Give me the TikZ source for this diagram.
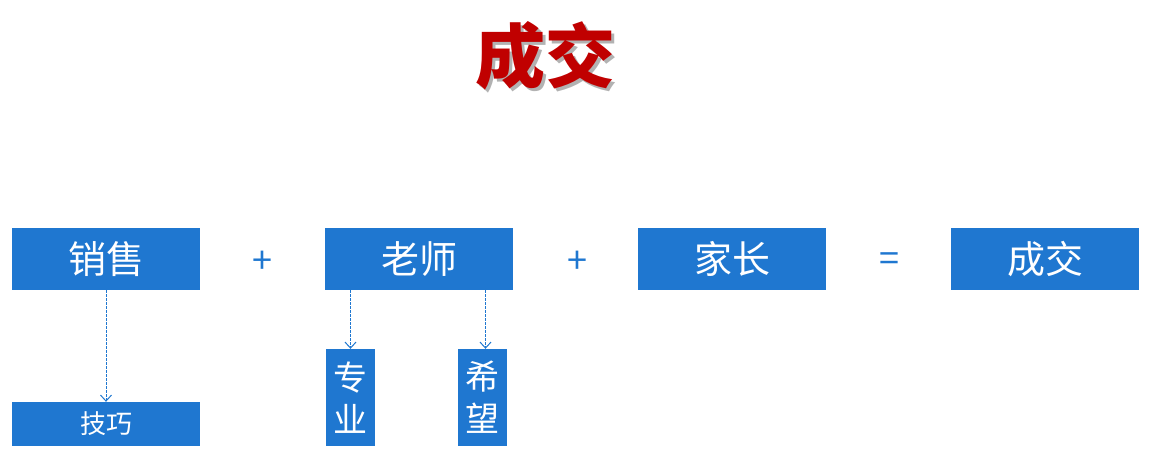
\documentclass[tikz,border=0pt]{standalone}
\usepackage{fontspec}
\newfontfamily\cjk{Noto Sans CJK SC}
\usetikzlibrary{arrows.meta}
\definecolor{bx}{HTML}{1F77D0}
\definecolor{tred}{HTML}{C00000}
\tikzset{
 big/.style={fill=bx,draw=none,minimum width=188pt,minimum height=62pt,inner sep=0pt,text=white,font=\cjk\fontsize{38}{38}\selectfont},
 op/.style={text=bx,font=\cjk\fontsize{36}{36}\selectfont},
 vbox/.style={fill=bx,draw=none,minimum width=49pt,minimum height=97pt,inner sep=0pt,text=white,align=center,font=\cjk\fontsize{34}{42}\selectfont},
 link/.style={draw=bx,dashed,dash pattern=on 2.5pt off 1.5pt,line width=1pt,-{Straight Barb[length=6pt,width=11pt,line width=1pt]}}
}
\begin{document}
\begin{tikzpicture}[x=1pt,y=-1pt]
\useasboundingbox (0,0) rectangle (1149,472);
\node[text=black!30,font=\cjk\bfseries\fontsize{70}{70}\selectfont] at (548,59) {成交};
\node (t) [text=tred,font=\cjk\bfseries\fontsize{70}{70}\selectfont] at (545,56) {成交};
\node (a) [big] at (106,259) {销售};
\node (b) [big] at (419,259) {老师};
\node (c) [big] at (732,259) {家长};
\node (d) [big] at (1045,259) {成交};
\node (p1) [op] at (262,262) {+};
\node (p2) [op] at (577,262) {+};
\node (eq) [op] at (889,262) {=};
\node (e) [fill=bx,minimum width=188pt,minimum height=44pt,inner sep=0pt,text=white,font=\cjk\fontsize{26}{26}\selectfont] at (106,424) {技巧};
\node (f) [vbox] at (350.5,397.5) {专\\业};
\node (g) [vbox] at (482.5,397.5) {希\\望};
\draw[link] (a.south -| e.north) -- (e.north);
\draw[link] (b.south -| f.north) -- (f.north);
\draw[link] ([xshift=3pt]b.south -| g.north) -- ([xshift=3pt]g.north);
\end{tikzpicture}
\end{document}
